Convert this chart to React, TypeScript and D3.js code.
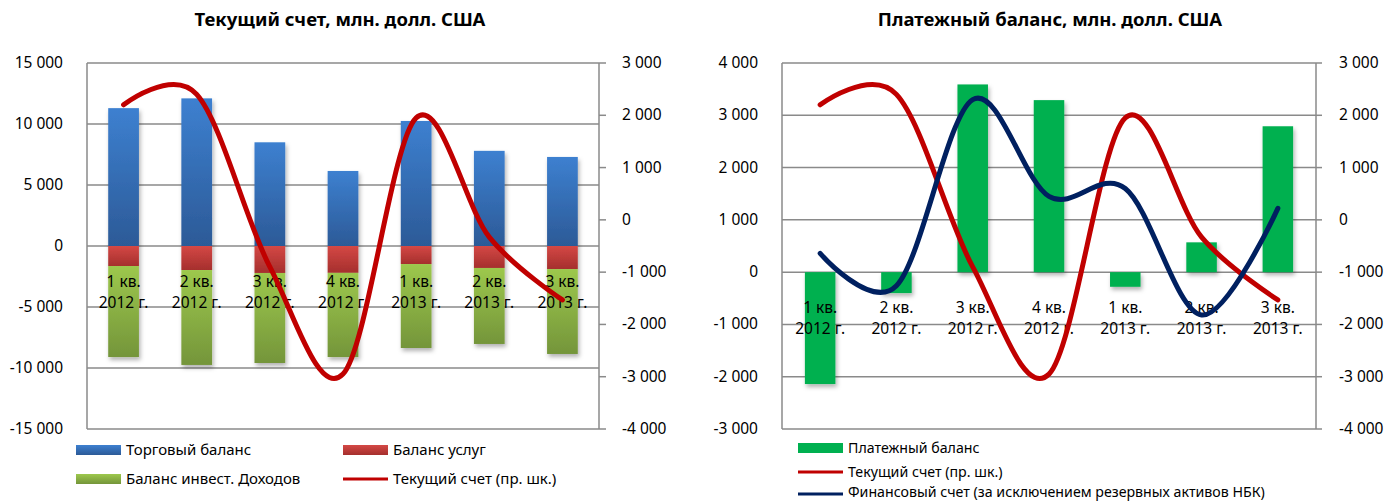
import React from "react";
import * as d3 from "d3";

const categories = ["1 кв.|2012 г.", "2 кв.|2012 г.", "3 кв.|2012 г.", "4 кв.|2012 г.", "1 кв.|2013 г.", "2 кв.|2013 г.", "3 кв.|2013 г."];
const tradeBalance = [11300, 12100, 8500, 6150, 10250, 7800, 7300];
const servicesBalance = [-1640, -1970, -2210, -2200, -1480, -1800, -1890];
const investIncome = [-7460, -7780, -7380, -6900, -6880, -6230, -6960];
const currentAccount = [2200, 2400, -900, -2950, 1950, -330, -1530];
const bopBalance = [-2140, -400, 3590, 3290, -280, 570, 2790];
const financialAccount = [360, -260, 3300, 1450, 1600, -820, 1220];
const leftTicksA = [15000, 10000, 5000, 0, -5000, -10000, -15000];
const rightTicks = [3000, 2000, 1000, 0, -1000, -2000, -3000, -4000];
const leftTicksB = [4000, 3000, 2000, 1000, 0, -1000, -2000, -3000];

const FONT = "'Noto Sans', sans-serif";
const GRID = "#8a8a8a";
const fmt = (v: number) => {
  const s = Math.abs(v).toString().replace(/\B(?=(\d{3})+(?!\d))/g, " ");
  return (v < 0 ? "-" : "") + s;
};

const TOP = 63, BOT = 429;

function CatLabels({ x, y1, y2 }: { x: d3.ScaleBand<string>; y1: number; y2: number }) {
  return (
    <g fontFamily={FONT} fontSize={15.5} fill="#000" textAnchor="middle">
      {categories.map((c) => {
        const [a, b] = c.split("|");
        const cx = (x(c) as number) + x.bandwidth() / 2;
        return (
          <g key={c}>
            <text x={cx} y={y1 + 5}>{a}</text>
            <text x={cx} y={y2 + 5}>{b}</text>
          </g>
        );
      })}
    </g>
  );
}

function LeftChart() {
  const x = d3.scaleBand<string>().domain(categories).range([87, 599]).padding(0);
  const yL = d3.scaleLinear().domain([-15000, 15000]).range([BOT, TOP]);
  const yR = d3.scaleLinear().domain([-4000, 3000]).range([BOT, TOP]);
  const bw = x.bandwidth() * 0.42;
  const cx = (i: number) => (x(categories[i]) as number) + x.bandwidth() / 2;
  const line = d3.line<number>().x((_, i) => cx(i)).y((d) => yR(d)).curve(d3.curveCardinal.tension(0));
  return (
    <g>
      <text x={340} y={26} textAnchor="middle" fontFamily={FONT} fontWeight="bold" fontSize={18.5}>Текущий счет, млн. долл. США</text>
      {leftTicksA.map((t) => (
        <g key={t}>
          <line x1={87} x2={599} y1={yL(t)} y2={yL(t)} stroke={GRID} strokeWidth={1.5} />
          <text x={63} y={yL(t) + 5} textAnchor="end" fontFamily={FONT} fontSize={15.5}>{fmt(t)}</text>
        </g>
      ))}
      <line x1={87} x2={87} y1={TOP} y2={BOT} stroke={GRID} strokeWidth={1.5} />
      <line x1={599} x2={599} y1={TOP} y2={BOT} stroke={GRID} strokeWidth={1.5} />
      {rightTicks.map((t) => (
        <g key={t}>
          <line x1={599} x2={606} y1={yR(t)} y2={yR(t)} stroke={GRID} strokeWidth={1.5} />
          <text x={622} y={yR(t) + 5} fontFamily={FONT} fontSize={15.5}>{fmt(t)}</text>
        </g>
      ))}
      <g filter="url(#shadow)">
        {categories.map((c, i) => {
          const x0 = cx(i) - bw / 2;
          const sb = servicesBalance[i];
          return (
            <g key={c}>
              <rect x={x0} y={yL(tradeBalance[i])} width={bw} height={yL(0) - yL(tradeBalance[i])} fill="url(#gBlue)" />
              <rect x={x0} y={yL(0)} width={bw} height={yL(sb) - yL(0)} fill="url(#gRed)" />
              <rect x={x0} y={yL(sb)} width={bw} height={yL(sb + investIncome[i]) - yL(sb)} fill="url(#gGreen)" />
            </g>
          );
        })}
      </g>
      <CatLabels x={x} y1={282} y2={303} />
      <path d={line(currentAccount) || ""} fill="none" stroke="#c00000" strokeWidth={5} strokeLinecap="round" />
      <g fontFamily={FONT} fontSize={15}>
        <rect x={76} y={445} width={45} height={10} fill="url(#gBlue)" />
        <text x={126} y={455}>Торговый баланс</text>
        <rect x={343} y={445} width={45} height={10} fill="url(#gRed)" />
        <text x={393} y={455}>Баланс услуг</text>
        <rect x={76} y={474} width={45} height={10} fill="url(#gGreen)" />
        <text x={126} y={484}>Баланс инвест. Доходов</text>
        <line x1={343} x2={388} y1={479} y2={479} stroke="#c00000" strokeWidth={3} />
        <text x={393} y={484}>Текущий счет (пр. шк.)</text>
      </g>
    </g>
  );
}

function RightChart() {
  const x = d3.scaleBand<string>().domain(categories).range([782, 1316]).padding(0);
  const yL = d3.scaleLinear().domain([-3000, 4000]).range([BOT, TOP]);
  const yR = d3.scaleLinear().domain([-4000, 3000]).range([BOT, TOP]);
  const bw = x.bandwidth() * 0.4;
  const cx = (i: number) => (x(categories[i]) as number) + x.bandwidth() / 2;
  const lineR = d3.line<number>().x((_, i) => cx(i)).y((d) => yR(d)).curve(d3.curveCardinal.tension(0));
  const lineL = d3.line<number>().x((_, i) => cx(i)).y((d) => yL(d)).curve(d3.curveCardinal.tension(0));
  return (
    <g>
      <text x={1050} y={26} textAnchor="middle" fontFamily={FONT} fontWeight="bold" fontSize={18.5}>Платежный баланс, млн. долл. США</text>
      {leftTicksB.map((t) => (
        <g key={t}>
          <line x1={782} x2={1316} y1={yL(t)} y2={yL(t)} stroke={GRID} strokeWidth={1.5} />
          <text x={758} y={yL(t) + 5} textAnchor="end" fontFamily={FONT} fontSize={15.5}>{fmt(t)}</text>
        </g>
      ))}
      <line x1={782} x2={782} y1={TOP} y2={BOT} stroke={GRID} strokeWidth={1.5} />
      <line x1={1316} x2={1316} y1={TOP} y2={BOT} stroke={GRID} strokeWidth={1.5} />
      {rightTicks.map((t) => (
        <g key={t}>
          <line x1={1316} x2={1322} y1={yR(t)} y2={yR(t)} stroke={GRID} strokeWidth={1.5} />
          <text x={1339} y={yR(t) + 5} fontFamily={FONT} fontSize={15.5}>{fmt(t)}</text>
        </g>
      ))}
      <g filter="url(#shadow)">
        {bopBalance.map((v, i) => (
          <rect key={i} x={cx(i) - bw / 2} y={Math.min(yL(v), yL(0))} width={bw} height={Math.abs(yL(v) - yL(0))} fill="#00b050" />
        ))}
      </g>
      <CatLabels x={x} y1={308} y2={329} />
      <path d={lineR(currentAccount) || ""} fill="none" stroke="#c00000" strokeWidth={5} strokeLinecap="round" />
      <path d={lineL(financialAccount) || ""} fill="none" stroke="#002060" strokeWidth={5} strokeLinecap="round" />
      <g fontFamily={FONT} fontSize={14.2}>
        <rect x={798} y={443} width={45} height={10} fill="#00b050" />
        <text x={848} y={453}>Платежный баланс</text>
        <line x1={798} x2={843} y1={472} y2={472} stroke="#c00000" strokeWidth={3} />
        <text x={848} y={477}>Текущий счет (пр. шк.)</text>
        <line x1={798} x2={843} y1={494} y2={494} stroke="#002060" strokeWidth={3} />
        <text x={848} y={497}>Финансовый счет (за исключением резервных активов НБК)</text>
      </g>
    </g>
  );
}

export default function App() {
  return (
    <svg width={1386} height={501} style={{ position: "fixed", left: 0, top: 0, background: "#fff" }}>
      <defs>
        <linearGradient id="gBlue" x1="0" y1="0" x2="0" y2="1">
          <stop offset="0" stopColor="#3d80d0" />
          <stop offset="1" stopColor="#2c5a97" />
        </linearGradient>
        <linearGradient id="gRed" x1="0" y1="0" x2="0" y2="1">
          <stop offset="0" stopColor="#d44845" />
          <stop offset="1" stopColor="#a52f2d" />
        </linearGradient>
        <linearGradient id="gGreen" x1="0" y1="0" x2="0" y2="1">
          <stop offset="0" stopColor="#9dc84d" />
          <stop offset="1" stopColor="#74953a" />
        </linearGradient>
        <filter id="shadow" x="-20%" y="-20%" width="140%" height="140%">
          <feDropShadow dx="1.5" dy="3" stdDeviation="2" floodColor="#000" floodOpacity="0.3" />
        </filter>
      </defs>
      <LeftChart />
      <RightChart />
    </svg>
  );
}
